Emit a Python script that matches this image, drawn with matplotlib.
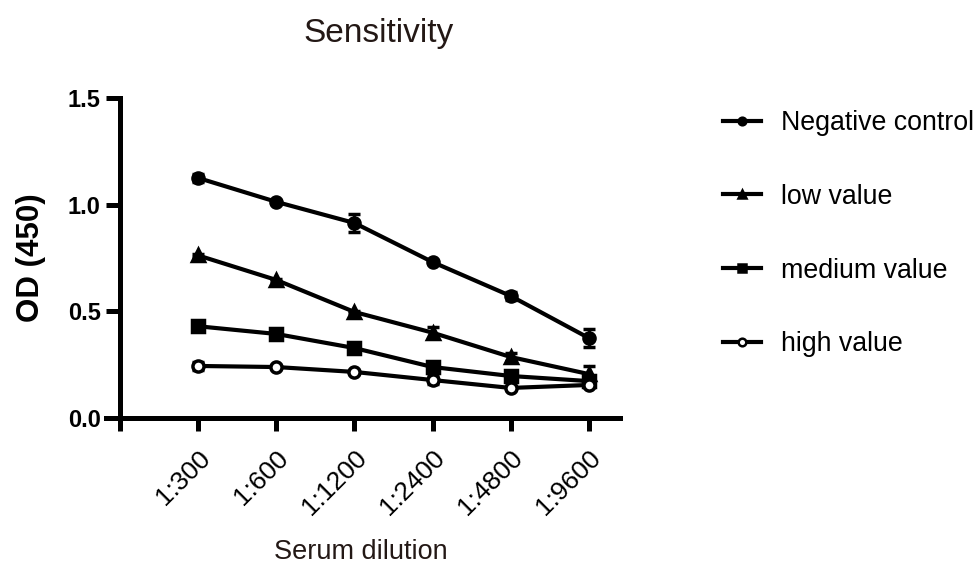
import matplotlib
matplotlib.use('Agg')
import matplotlib.pyplot as plt
from matplotlib.lines import Line2D
import numpy as np

plt.rcParams['font.family'] = ['Liberation Sans', 'DejaVu Sans']

# 数据
dilutions = ['1:300', '1:600', '1:1200', '1:2400', '1:4800', '1:9600']
series_names = ['Negative control', 'low value', 'medium value', 'high value']
negative = [1.125, 1.013, 0.914, 0.731, 0.572, 0.375]
negative_err = [0.02, 0.005, 0.04, 0.005, 0.02, 0.04]
low = [0.762, 0.647, 0.497, 0.400, 0.286, 0.206]
low_err = [0.005, 0.005, 0.005, 0.025, 0.02, 0.04]
medium = [0.430, 0.394, 0.328, 0.239, 0.197, 0.173]
medium_err = [0.01, 0.005, 0.005, 0.015, 0.025, 0.01]
high = [0.244, 0.239, 0.216, 0.178, 0.141, 0.155]
high_err = [0.02, 0.005, 0.005, 0.02, 0.005, 0.01]

text_color = '#231815'

fig = plt.figure(figsize=(9.74, 5.63), dpi=100)
ax = fig.add_axes([0.1233, 0.2575, 0.5133, 0.5685])

x = np.arange(1, len(dilutions) + 1)
styles = [
    (negative, negative_err, 'o', 'black'),
    (low, low_err, '^', 'black'),
    (medium, medium_err, 's', 'black'),
    (high, high_err, 'o', 'white'),
]
legend_handles = []
for (vals, err, mk, face), name in zip(styles, series_names):
    ax.errorbar(x, vals, yerr=err, color='black', lw=3, marker=mk,
                markersize=8, markerfacecolor=face,
                markeredgewidth=2.5, capsize=4, capthick=2, elinewidth=2,
                clip_on=False, zorder=3)
    legend_handles.append(Line2D([], [], color='black', lw=3, marker=mk,
                                 markersize=5.5, markerfacecolor=face,
                                 markeredgewidth=1.8))

ax.set_xlim(0, 6.4)
ax.set_ylim(0, 1.5)
ax.set_yticks([0, 0.5, 1.0, 1.5])
ax.set_yticklabels(['0.0', '0.5', '1.0', '1.5'], fontweight='bold', fontsize=17)
ax.set_xticks(np.arange(0, len(dilutions) + 1))
ax.set_xticklabels([''] + dilutions, rotation=45, ha='right', va='top',
                   rotation_mode='anchor', fontsize=19)

for side in ['top', 'right']:
    ax.spines[side].set_visible(False)
for side in ['left', 'bottom']:
    ax.spines[side].set_linewidth(3.6)
ax.spines['bottom'].set_bounds(-0.18, 6.4)
ax.tick_params(axis='y', length=10, width=3.6, pad=4)
ax.tick_params(axis='x', length=9, width=3.6, pad=11)

ax.set_ylabel('OD (450)', fontsize=22.5, fontweight='bold', labelpad=16)
ax.set_xlabel('Serum dilution', fontsize=19.5, color=text_color)
ax.xaxis.set_label_coords(0.481, -0.377)
ax.set_title('Sensitivity', fontsize=24, color=text_color, pad=40, x=0.518)

fig.legend(legend_handles, series_names, loc='upper left',
           bbox_to_anchor=(0.7315, 0.8235), frameon=False, fontsize=19.3,
           handlelength=1.4, handletextpad=0.75, labelspacing=1.78,
           borderaxespad=0)

fig.savefig('out.png', dpi=100)
